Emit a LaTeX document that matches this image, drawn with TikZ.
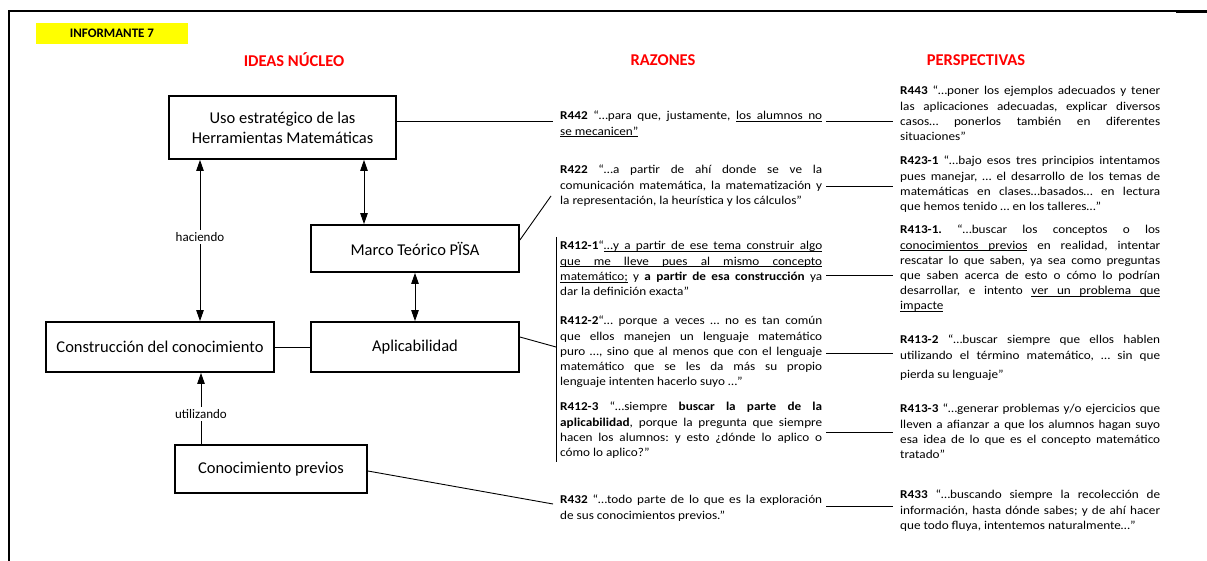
\documentclass[tikz,border=0pt]{standalone}
\usepackage{fontspec}
\setmainfont{Carlito}
\newfontfamily\quotefont{Carlito}[FakeStretch=1.1]
\usetikzlibrary{arrows.meta}
\hyphenpenalty=10000
\exhyphenpenalty=10000
\hbadness=10000
\frenchspacing
\definecolor{titlered}{RGB}{255,0,0}
\definecolor{tagyellow}{RGB}{255,255,0}

% underlining that follows the stretched spaces of justified lines
\newcommand\ulword[1]{\setbox0\hbox{#1}\rlap{\vrule height -1.4pt depth 2.0pt width \wd0}\box0\relax}
\newcommand\ulspace{\leaders\hrule height -1.4pt depth 2.0pt\hskip\fontdimen2\font plus \fontdimen3\font minus \fontdimen4\font\relax}
\def\ulphrase#1{\ulphraseA#1 \ulphraseEnd}
\def\ulphraseA#1 #2\ulphraseEnd{\ulword{#1}\ifx\relax#2\relax\else\ulspace\ulphraseA#2\ulphraseEnd\fi}

\tikzset{
  box/.style={draw, line width=1.8pt, align=center, inner sep=0pt,
    font=\fontsize{16.5}{20}\selectfont},
  lbl/.style={fill=white, inner sep=2.5pt, font=\fontsize{13}{15}\selectfont},
  conn/.style={line width=0.9pt},
  tip/.tip={Triangle[width=7.5pt,length=11pt]},
  arr/.style={conn, -tip},
  dbl/.style={conn, tip-tip},
  title/.style={text=titlered, font=\bfseries\fontsize{16.5}{20}\selectfont},
  quote/.style={anchor=north west, inner sep=0pt, text width=262pt, align=justify,
    font=\quotefont\fontsize{12}{15.2}\selectfont},
  persp/.style={quote, text width=260pt},
}

\begin{document}
\begin{tikzpicture}[x=1pt, y=-1pt]
\useasboundingbox (0,0) rectangle (1207,561);

% frame
\draw[line width=2pt] (9,561) -- (9,11);
\draw[line width=1.2pt] (8,11) -- (1207,11);
\draw[line width=2pt] (8,11) -- (22,11);
\draw[line width=2.2pt] (1176,11.5) -- (1207,11.5);

% header
\node[fill=tagyellow, minimum width=152pt, minimum height=21pt, inner sep=0pt,
  font=\bfseries\fontsize{13}{15}\selectfont] (tag) at (112,33.5) {INFORMANTE 7};
\node[title] (t1) at (294,60) {IDEAS NÚCLEO};
\node[title] (t2) at (663,60) {RAZONES};
\node[title] (t3) at (976,60) {PERSPECTIVAS};

% core ideas
\node[box, minimum width=227pt, minimum height=63pt] (uso) at (282.5,127.5)
  {Uso estratégico de las\\Herramientas Matemáticas};
\node[box, minimum width=208pt, minimum height=47pt] (marco) at (415,248.5) {Marco Teórico PÏSA};
\node[box, minimum width=208pt, minimum height=50pt] (aplic) at (415,347) {Aplicabilidad};
\node[box, minimum width=228pt, minimum height=50pt] (constr) at (160,347) {Construcción del conocimiento};
\node[box, minimum width=192pt, minimum height=48pt] (conoc) at (271,469) {Conocimiento previos};

\node[lbl] (hac) at (200,237) {haciendo};
\node[lbl] (util) at (201,414) {utilizando};

\draw[arr] (hac) -- (uso.south -| hac);
\draw[arr] (hac) -- (constr.north -| hac);
\draw[dbl] ([xshift=-51pt]marco.north) -- ([xshift=-51pt]marco.north |- uso.south);
\draw[dbl] (marco.south) -- (aplic.north);
\draw[conn] (constr.east) -- (aplic.west);
\draw[conn] (conoc.north -| util) -- (util);
\draw[arr] (util) -- (constr.south -| util);

% reasons
\node[quote] (r442) at (560,109) {\strut\textbf{R442} “…para que, justamente, \ulphrase{los alumnos no}\linebreak
  \ulphrase{se mecanicen”}};
\node[quote] (r422) at (560,163) {\strut\textbf{R422} “…a partir de ahí donde se ve la\linebreak
  comunicación matemática, la matematización y\linebreak
  la representación, la heurística y los cálculos”};
\node[quote] (r4121) at (560,239) {\strut\textbf{R412-1}“\ulphrase{…y a partir de ese tema construir algo}\linebreak
  \ulphrase{que me lleve pues al mismo concepto}\linebreak
  \ulphrase{matemático;} y \textbf{a partir de esa construcción} ya\linebreak
  dar la definición exacta”};
\node[quote] (r4122) at (560,314) {\strut\textbf{R412-2}“… porque a veces … no es tan común\linebreak
  que ellos manejen un lenguaje matemático\linebreak
  puro …, sino que al menos que con el lenguaje\linebreak
  matemático que se les da más su propio\linebreak
  lenguaje intenten hacerlo suyo …”};
\node[quote] (r4123) at (560,400) {\strut\textbf{R412-3} “…siempre \textbf{buscar la parte de la}\linebreak
  \textbf{aplicabilidad}, porque la pregunta que siempre\linebreak
  hacen los alumnos: y esto ¿dónde lo aplico o\linebreak
  cómo lo aplico?”};
\node[quote] (r432) at (560,493) {\strut\textbf{R432} “…todo parte de lo que es la exploración\linebreak
  de sus conocimientos previos.”};

% perspectives
\node[persp] (r443) at (900,84) {\strut\textbf{R443} “…poner los ejemplos adecuados y tener\linebreak
  las aplicaciones adecuadas, explicar diversos\linebreak
  casos… ponerlos también en diferentes\linebreak
  situaciones”};
\node[persp] (r4231) at (900,154) {\strut\textbf{R423-1} “…bajo esos tres principios intentamos\linebreak
  pues manejar, … el desarrollo de los temas de\linebreak
  matemáticas en clases…basados… en lectura\linebreak
  que hemos tenido … en los talleres…”};
\node[persp] (r4131) at (900,223) {\strut\textbf{R413-1.} “…buscar los conceptos o los\linebreak
  \ulphrase{conocimientos previos} en realidad, intentar\linebreak
  rescatar lo que saben, ya sea como preguntas\linebreak
  que saben acerca de esto o cómo lo podrían\linebreak
  desarrollar, e intento \ulphrase{ver un problema que}\linebreak
  \ulphrase{impacte}};
\node[persp] (r4132) at (900,333) {\strut\textbf{R413-2} “…buscar siempre que ellos hablen\linebreak
  utilizando el término matemático, … sin que\vspace{4pt}\linebreak
  pierda su lenguaje”};
\node[persp] (r4133) at (900,402) {\strut\textbf{R413-3} “…generar problemas y/o ejercicios que\linebreak
  lleven a afianzar a que los alumnos hagan suyo\linebreak
  esa idea de lo que es el concepto matemático\linebreak
  tratado”};
\node[persp] (r433) at (900,488) {\strut\textbf{R433} “…buscando siempre la recolección de\linebreak
  información, hasta dónde sabes; y de ahí hacer\linebreak
  que todo fluya, intentemos naturalmente…”};

% connectors from the core ideas to the reasons
\coordinate (u1) at (553,121);
\coordinate (m1) at (551,196);
\coordinate (bt) at (556,237);
\coordinate (bb) at (556,462);
\coordinate (c1) at (553,504);
\draw[conn] ([yshift=6.5pt]uso.east) -- (u1);
\draw[conn] ([yshift=8.5pt]marco.east) -- (m1);
\draw[conn] (bt) -- (bb);
\draw[conn] ([yshift=10pt]aplic.east) -- (aplic.east -| bt);
\draw[conn] ([yshift=-2pt]conoc.east) -- (c1);

% connectors from the reasons to the perspectives
\foreach \y [count=\i] in {121,186,275,353,432,506} {
  \coordinate (ra\i) at (826,\y);
  \coordinate (pa\i) at (893,\y);
  \draw[conn] (ra\i) -- (pa\i);
}
\end{tikzpicture}
\end{document}
